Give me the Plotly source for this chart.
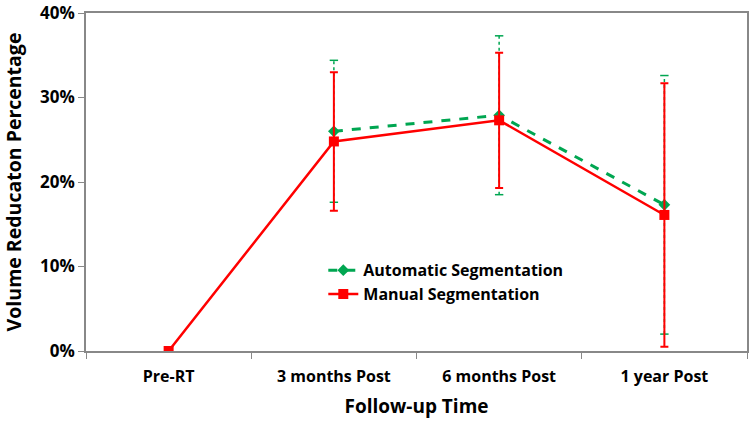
import plotly.graph_objects as go

# follow-up time points
categories = ["Pre-RT", "3 months Post", "6 months Post", "1 year Post"]

# mean volume reduction (%)
auto_mean = [None, 26.0, 27.9, 17.3]
manual_mean = [0.0, 24.8, 27.3, 16.1]

# error bar half-widths (%)
auto_err = [None, 8.4, 9.4, 15.3]
manual_err = [0.0, 8.2, 8.0, 15.6]

y_ticks = [0, 10, 20, 30, 40]
y_labels = ["0%", "10%", "20%", "30%", "40%"]

GREEN = "#00A651"
RED = "#FF0000"
FONT = "Open Sans"

# dotted error segments for the automatic series (plotly error bars cannot be dashed)
seg_x, seg_y, cap_x, cap_y = [], [], [], []
for c, m, e in zip(categories, auto_mean, auto_err):
    if m is None:
        continue
    seg_x += [c, c, None]
    seg_y += [m - e, m + e, None]
    cap_x += [c, c]
    cap_y += [m - e, m + e]

fig = go.Figure()

fig.add_trace(go.Scatter(
    x=seg_x, y=seg_y, mode="lines", showlegend=False, hoverinfo="skip",
    line=dict(color=GREEN, width=1.5, dash="dot")))
fig.add_trace(go.Scatter(
    x=cap_x, y=cap_y, mode="markers", showlegend=False, hoverinfo="skip",
    marker=dict(symbol="line-ew", size=6, line=dict(color=GREEN, width=1.5))))

fig.add_trace(go.Scatter(
    x=categories, y=auto_mean, name="Automatic Segmentation",
    mode="lines+markers",
    line=dict(color=GREEN, width=3, dash="dash"),
    marker=dict(symbol="diamond", size=9, color=GREEN)))

fig.add_trace(go.Scatter(
    x=categories, y=manual_mean, name="Manual Segmentation",
    mode="lines+markers",
    line=dict(color=RED, width=2.5),
    marker=dict(symbol="square", size=10, color=RED),
    error_y=dict(type="data", array=manual_err, visible=True,
                 color=RED, thickness=2, width=4)))

fig.update_layout(
    width=750, height=430,
    margin=dict(l=86, r=3, t=13, b=79),
    plot_bgcolor="white", paper_bgcolor="white",
    font=dict(family=FONT, size=15, color="black"),
    legend=dict(x=0.359, y=0.289, xanchor="left", yanchor="top",
                bgcolor="rgba(0,0,0,0)", tracegroupgap=0,
                font=dict(family=FONT, size=16, color="black", weight="bold")),
)

fig.update_xaxes(
    type="category", categoryorder="array", categoryarray=categories,
    range=[-0.5, 3.5], tickson="boundaries", automargin=False,
    ticks="outside", ticklen=6, tickcolor="#888", ticklabelstandoff=10,
    showline=True, linecolor="#888", linewidth=1.5, mirror=True,
    showgrid=False, zeroline=False,
    tickfont=dict(family=FONT, size=16, weight="bold"),
    title=dict(text="<b>Follow-up Time</b>", font=dict(family=FONT, size=19), standoff=14))

fig.update_yaxes(
    range=[0, 40], tickvals=y_ticks, ticktext=y_labels, automargin=False,
    ticklabeloverflow="allow",
    ticks="outside", ticklen=6, tickcolor="#888",
    showline=True, linecolor="#888", linewidth=1.5, mirror=True,
    showgrid=False, zeroline=False,
    tickfont=dict(family=FONT, size=17, weight="bold"),
    title=dict(text="<b>Volume Reducaton Percentage</b>", font=dict(family=FONT, size=19.5), standoff=14))

fig.write_html("out.html", config={"displayModeBar": False},
               post_script="document.body.style.margin='0';")
